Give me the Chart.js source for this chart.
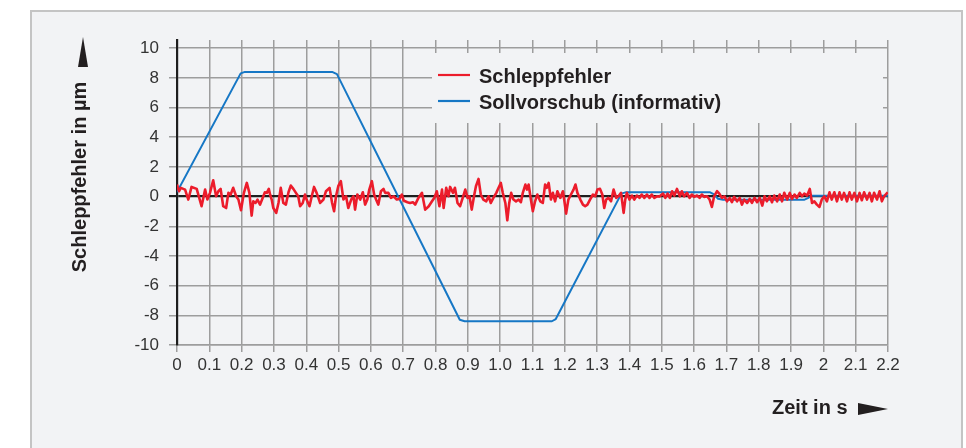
<!DOCTYPE html>
<html>
<head>
<meta charset="utf-8">
<script src="https://cdn.jsdelivr.net/npm/chart.js@4/dist/chart.umd.min.js"></script>
<style>
    html, body { margin: 0; padding: 0; background: #ffffff; }
    #frame {
        position: absolute; left: 30px; top: 10px; width: 929px; height: 470px;
        border: 2px solid #c4c4c4; background: #f2f3f5;
    }
    #plot { position: absolute; left: 0; top: 0; }
</style>
</head>
<body>
<div id="frame"></div>
<canvas id="plot" width="966" height="448"></canvas>
<script>
// Axis tick labels
const xTickLabels = ['0', '0.1', '0.2', '0.3', '0.4', '0.5', '0.6', '0.7', '0.8', '0.9', '1.0',
    '1.1', '1.2', '1.3', '1.4', '1.5', '1.6', '1.7', '1.8', '1.9', '2', '2.1', '2.2'];
const yTickLabels = ['-10', '-8', '-6', '-4', '-2', '0', '2', '4', '6', '8', '10'];

// Schleppfehler (following error), time in s / value in µm
const errTime = [
    0, 0.006, 0.012, 0.025, 0.035, 0.045, 0.061, 0.076, 0.087, 0.094,
    0.102, 0.112, 0.121, 0.128, 0.135, 0.143, 0.152, 0.159, 0.166, 0.174,
    0.183, 0.190, 0.198, 0.207, 0.216, 0.224, 0.231, 0.236, 0.243, 0.249,
    0.257, 0.265, 0.272, 0.278, 0.284, 0.288, 0.293, 0.298, 0.307, 0.314,
    0.321, 0.329, 0.337, 0.345, 0.352, 0.360, 0.368, 0.375, 0.381, 0.389,
    0.396, 0.401, 0.410, 0.417, 0.424, 0.432, 0.443, 0.453, 0.461, 0.472,
    0.480, 0.486, 0.492, 0.499, 0.507, 0.515, 0.523, 0.530, 0.539, 0.546,
    0.551, 0.558, 0.567, 0.575, 0.582, 0.589, 0.595, 0.603, 0.610, 0.616,
    0.623, 0.631, 0.639, 0.644, 0.654, 0.662, 0.670, 0.680, 0.688, 0.696,
    0.701, 0.706, 0.713, 0.721, 0.730, 0.737, 0.747,
    0.758, 0.768, 0.779, 0.789, 0.796, 0.804, 0.812, 0.820, 0.825, 0.833,
    0.840, 0.845, 0.854, 0.860, 0.868, 0.876, 0.884, 0.892, 0.899, 0.905,
    0.912, 0.919, 0.925, 0.933, 0.940, 0.948, 0.957, 0.964, 0.971, 0.979,
    0.988, 0.995, 1.002, 1.008, 1.016, 1.022, 1.028, 1.034, 1.041, 1.049,
    1.057, 1.064, 1.070, 1.078, 1.083, 1.088, 1.095, 1.101, 1.108, 1.115,
    1.124, 1.132, 1.139, 1.144, 1.150, 1.157, 1.163, 1.170, 1.177, 1.186,
    1.194, 1.198, 1.204, 1.211, 1.219, 1.227, 1.233, 1.239, 1.248, 1.256,
    1.263, 1.270, 1.278, 1.287, 1.294, 1.301, 1.309, 1.316, 1.322, 1.328,
    1.335, 1.343, 1.351, 1.359, 1.366, 1.374, 1.382, 1.387, 1.392, 1.400,
    1.408, 1.415, 1.423, 1.431, 1.438, 1.446, 1.454, 1.462, 1.469, 1.477,
    1.485, 1.493,
    1.504, 1.511, 1.518, 1.525, 1.532, 1.539, 1.547, 1.556, 1.562, 1.569,
    1.578, 1.586, 1.593, 1.600, 1.609, 1.617, 1.624, 1.631, 1.640, 1.648,
    1.655, 1.662, 1.671, 1.678, 1.686, 1.694, 1.702, 1.710, 1.717, 1.724,
    1.733, 1.741, 1.748, 1.755, 1.764, 1.772, 1.779, 1.787, 1.795, 1.803,
    1.811, 1.818, 1.825, 1.834, 1.841, 1.848, 1.857, 1.865, 1.872, 1.879,
    1.888, 1.896, 1.903, 1.911, 1.918, 1.927, 1.934, 1.941, 1.950, 1.958,
    1.965, 1.972, 1.980, 1.988, 1.995, 2.003, 2.011, 2.019, 2.026, 2.034,
    2.042, 2.050, 2.057, 2.064, 2.073, 2.081, 2.088, 2.096, 2.104, 2.112,
    2.119, 2.126, 2.135, 2.143, 2.150, 2.157, 2.166, 2.174, 2.181, 2.188,
    2.199
];
const errValue = [
    0.81, 0.36, 0.59, 0.47, -0.20, 0.65, 0.52, -0.65, 0.47, -0.20,
    0.25, 1.10, 0.02, 0.36, 0.52, -0.65, -0.77, 0.25, 0.14, 0.59,
    0.02, -0.20, -0.92, 0.25, 0.92, 0.25, -1.28, -0.32, -0.43, -0.20,
    -0.54, -0.09, 0.29, 0.25, 0.52, 0.14, -0.20, -0.77, -1.10, -0.43,
    0.59, -0.43, -0.54, 0.29, 0.74, 0.52, 0.25, 0.02, -0.65, -0.43,
    0.14, -0.20, -0.65, 0.02, 0.65, 0.25, -0.43, -0.20, 0.36, 0.59,
    -0.43, -0.99, 0.02, 0.70, 1.04, -0.20, 0.02, -0.77, -0.20, 0.02,
    -0.88, 0.14, -0.20, 0.29, -0.54, -0.20, 0.47, 1.04, 0.14, -0.20,
    -0.54, 0.36, 0.52, 0.25, 0.25, -0.09, 0.02, -0.20, -0.16, 0.14,
    -0.25, -0.32, -0.38, -0.43, -0.38, -0.54, -0.09,
    0.25, -0.88, -0.65, -0.32, -0.09, 0.36, -0.65, 0.47, -0.77, 0.59,
    0.02, 0.65, 0.25, 0.59, -0.43, -0.65, -0.09, 0.47, -0.09, 0.02,
    -0.88, 0.02, 0.70, 1.19, 0.14, -0.20, -0.32, 0.02, -0.43, -0.09,
    0.25, 0.59, 0.92, 0.25, -0.43, -1.60, -0.43, 0.25, -0.20, -0.32,
    -0.20, -0.38, 0.25, 0.81, 0.47, 0.81, -0.20, -0.99, -0.32, 0.14,
    -0.32, -0.43, 0.81, 0.59, 0.92, -0.20, 0.25, -0.32, 0.36, -0.09,
    0.36, -0.20, -1.15, -0.20, 0.14, 0.47, 0.81, 0.25, -0.20, -0.54,
    -0.65, -0.54, -0.20, 0.14, 0.02, 0.47, 0.52, 0.14, -0.77, -0.20,
    -0.09, -0.32, 0.47, -0.09, 0.02, 0.25, -1.10, -0.20, 0.25, -0.20,
    0.07, -0.20, 0.07, -0.09, 0.14, -0.09, 0.14, -0.09, 0.14, -0.09,
    0.02, 0.00,
    0.20, -0.09, 0.20, -0.09, 0.36, 0.07, 0.52, 0.02, 0.36, 0.02,
    0.25, -0.09, 0.14, -0.02, 0.07, -0.09, 0.14, -0.02, 0.02, -0.20,
    -0.70, 0.02, 0.36, 0.20, -0.09, 0.02, -0.32, -0.09, -0.38, -0.02,
    -0.32, -0.09, -0.54, -0.20, -0.43, -0.16, -0.43, -0.09, -0.38, -0.09,
    -0.61, 0.02, -0.32, 0.02, -0.38, 0.07, -0.32, 0.14, -0.32, 0.25,
    -0.20, 0.25, -0.16, 0.14, -0.09, 0.25, 0.02, 0.20, 0.07, 0.52,
    -0.43, -0.32, -0.54, -0.70, -0.20, 0.02, -0.32, 0.29, -0.20, 0.29,
    -0.32, 0.29, -0.20, 0.25, -0.32, 0.29, -0.20, 0.25, -0.32, 0.25,
    -0.25, 0.29, -0.20, 0.25, -0.32, 0.25, -0.20, 0.36, -0.32, 0.02,
    0.29
];

// Sollvorschub (informativ): corner points of the feed profile
const sollTime = [0.0, 0.197, 0.21, 0.48, 0.495, 0.875, 0.89, 1.16, 1.172, 1.375,
    1.39, 1.648, 1.662, 1.674, 1.69, 1.94, 1.952, 1.965, 2.2];
const sollValue = [0.3, 8.3, 8.4, 8.4, 8.25, -8.3, -8.4, -8.4, -8.25, 0.2,
    0.3, 0.3, 0.15, -0.15, -0.22, -0.22, -0.1, 0.06, 0.06];

const seriesNames = ['Schleppfehler', 'Sollvorschub (informativ)'];
const seriesColors = ['#ec1c2b', '#1677c5'];

const GRID = '#9d9d9d';
const INK = '#231f20';

// legend box, axis titles and arrows
const decor = {
    id: 'decor',
    beforeDatasetsDraw(chart) {
        const ctx = chart.ctx;
        ctx.save();
        ctx.fillStyle = '#f2f3f5';
        ctx.fillRect(432, 53, 451, 70);
        ctx.restore();
    },
    afterDraw(chart) {
        const ctx = chart.ctx;
        ctx.save();
        ctx.font = 'bold 20px "Liberation Sans", Arial, sans-serif';
        ctx.fillStyle = INK;
        ctx.textBaseline = 'alphabetic';
        chart.data.datasets.forEach((ds, i) => {
            const y = 75 + i * 26;
            ctx.strokeStyle = ds.borderColor;
            ctx.lineWidth = 2.2;
            ctx.beginPath();
            ctx.moveTo(438, y);
            ctx.lineTo(470, y);
            ctx.stroke();
            ctx.fillText(ds.label, 479, y + 8);
        });

        // y title
        ctx.save();
        ctx.translate(86, 177);
        ctx.rotate(-Math.PI / 2);
        ctx.textAlign = 'center';
        ctx.fillText('Schleppfehler in µm', 0, 0);
        ctx.restore();

        // x title
        ctx.textAlign = 'left';
        ctx.fillText('Zeit in s', 772, 414);

        // arrows
        ctx.beginPath();
        ctx.moveTo(83, 37);
        ctx.lineTo(88, 67);
        ctx.lineTo(78, 67);
        ctx.closePath();
        ctx.fill();

        ctx.beginPath();
        ctx.moveTo(888, 409);
        ctx.lineTo(858, 403);
        ctx.lineTo(858, 415);
        ctx.closePath();
        ctx.fill();
        ctx.restore();
    }
};

const errPoints = errTime.map((t, i) => ({ x: t, y: errValue[i] }));
const sollPoints = sollTime.map((t, i) => ({ x: t, y: sollValue[i] }));

new Chart(document.getElementById('plot'), {
    type: 'line',
    data: {
        datasets: [{
            label: seriesNames[0],
            data: errPoints,
            borderColor: seriesColors[0],
            borderWidth: 2.6,
            pointRadius: 0,
            tension: 0,
            borderJoinStyle: 'round'
        }, {
            label: seriesNames[1],
            data: sollPoints,
            borderColor: seriesColors[1],
            borderWidth: 2,
            pointRadius: 0,
            tension: 0,
            borderJoinStyle: 'round'
        }]
    },
    options: {
        responsive: false,
        animation: false,
        events: [],
        layout: { padding: { left: 117, top: 40, right: 78, bottom: 73 } },
        plugins: { legend: { display: false }, tooltip: { enabled: false } },
        scales: {
            x: {
                type: 'linear',
                min: 0,
                max: 2.2,
                afterBuildTicks: s => { s.ticks = xTickLabels.map(v => ({ value: parseFloat(v) })); },
                afterFit: s => { s.height = 30; },
                ticks: {
                    autoSkip: false,
                    maxRotation: 0,
                    padding: 3,
                    color: '#333333',
                    font: { family: '"Liberation Sans", Arial, sans-serif', size: 17 },
                    callback: (v, i) => xTickLabels[i]
                },
                grid: { color: GRID, lineWidth: 1.5, tickLength: 7 },
                border: { color: GRID, width: 1.5 }
            },
            y: {
                min: -10,
                max: 10.55,
                afterBuildTicks: s => { s.ticks = yTickLabels.map(v => ({ value: parseFloat(v) })); },
                afterFit: s => { s.width = 60; },
                ticks: {
                    padding: 10,
                    color: '#333333',
                    font: { family: '"Liberation Sans", Arial, sans-serif', size: 17 },
                    callback: (v, i) => yTickLabels[i]
                },
                grid: {
                    color: c => (c.tick && c.tick.value === 0) ? '#1e1e1e' : GRID,
                    lineWidth: c => (c.tick && c.tick.value === 0) ? 2.2 : 1.5,
                    tickLength: 8
                },
                border: { color: '#1e1e1e', width: 2.2 }
            }
        }
    },
    plugins: [decor]
});
</script>
</body>
</html>
